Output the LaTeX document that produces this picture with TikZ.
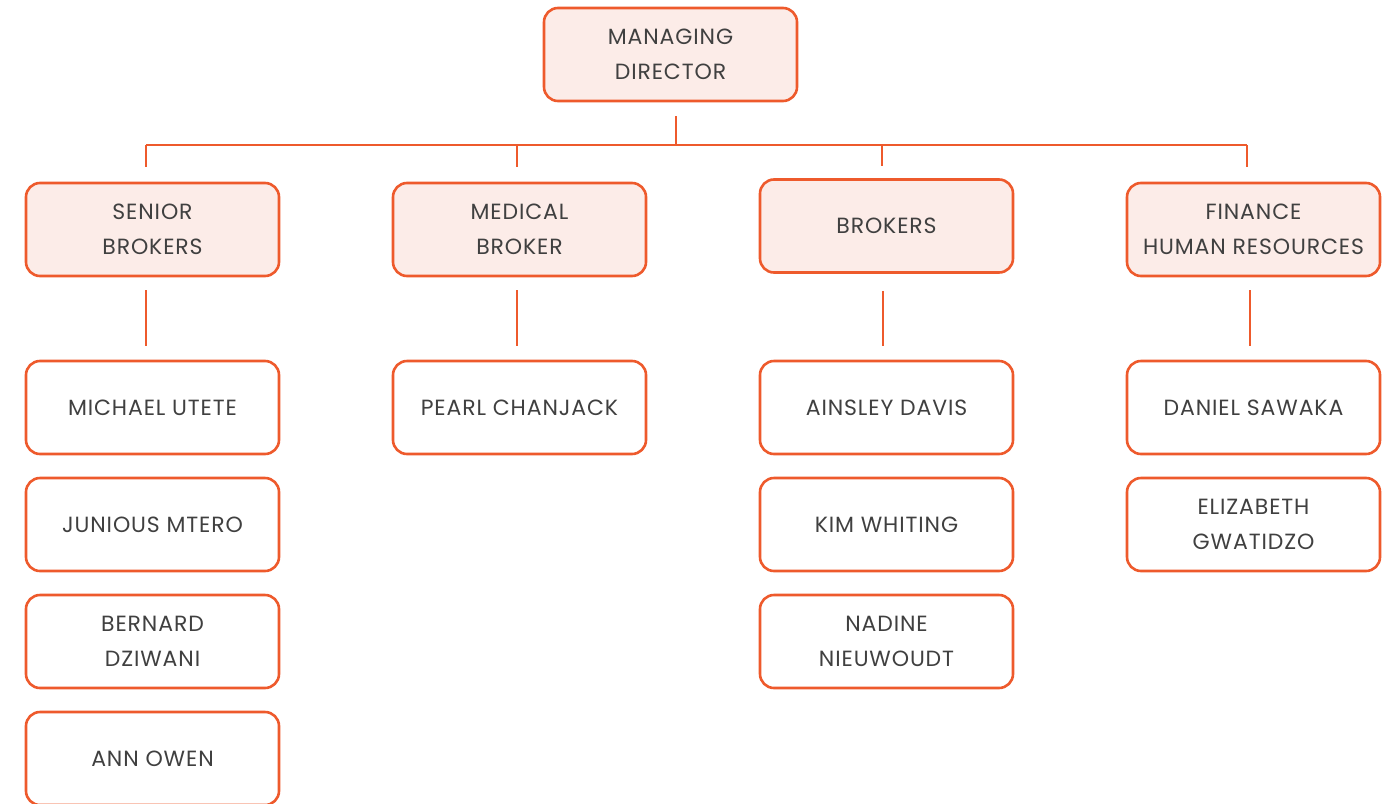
\documentclass[tikz,border=0pt]{standalone}
\usepackage{fontspec}
\setmainfont[LetterSpace=4]{Poppins}
\usetikzlibrary{positioning}

\definecolor{edgeorange}{HTML}{EE5A2C}
\definecolor{headfill}{HTML}{FCECE8}
\definecolor{textgrey}{HTML}{404040}

\begin{document}
\begin{tikzpicture}[x=1pt, y=-1pt]
            \tikzstyle{box}=[draw=edgeorange, line width=2.6pt, rounded corners=14pt, fill=white,
                             minimum width=253pt, minimum height=93pt, align=center,
                             text=textgrey, font=\fontsize{22}{35}\selectfont]
            \tikzstyle{head}=[box, fill=headfill]
            \tikzstyle{link}=[draw=edgeorange, line width=2.6pt]

            \useasboundingbox (0,0) rectangle (1396,803);

            % top
            \node[head] (MD) at (670.5,54.5) {MANAGING\\DIRECTOR};

            % departments
            \node[head] (SB) at (152.5,229.5) {SENIOR\\BROKERS};
            \node[head] (MB) at (519.5,229.5) {MEDICAL\\BROKER};
            \node[head] (BR) at (886.5,226) {BROKERS};
            \node[head] (FH) at (1253.5,229.5) {FINANCE\\HUMAN RESOURCES};

            % staff
            \node[box] (S1) at (152.5,407.5) {MICHAEL UTETE};
            \node[box] (S2) at (152.5,524.5) {JUNIOUS MTERO};
            \node[box] (S3) at (152.5,641.5) {BERNARD\\DZIWANI};
            \node[box] (S4) at (152.5,758.5) {ANN OWEN};
            \node[box] (M1) at (519.5,407.5) {PEARL CHANJACK};
            \node[box] (B1) at (886.5,407.5) {AINSLEY DAVIS};
            \node[box] (B2) at (886.5,524.5) {KIM WHITING};
            \node[box] (B3) at (886.5,641.5) {NADINE\\NIEUWOUDT};
            \node[box] (F1) at (1253.5,407.5) {DANIEL SAWAKA};
            \node[box] (F2) at (1253.5,524.5) {ELIZABETH\\GWATIDZO};

            \coordinate (bus) at (676,145);

            \draw[link, shorten <=14pt] (MD.south -| bus) -- (bus);
            \draw[link] ([xshift=-6.5pt]SB.north |- bus) -- ([xshift=-6.5pt]FH.north |- bus);
            \draw[link, shorten >=15pt] ([xshift=-6.5pt]SB.north |- bus) -- ([xshift=-6.5pt]SB.north);
            \draw[link, shorten >=15pt] ([xshift=-2.5pt]MB.north |- bus) -- ([xshift=-2.5pt]MB.north);
            \draw[link, shorten >=12pt] ([xshift=-4.5pt]BR.north |- bus) -- ([xshift=-4.5pt]BR.north);
            \draw[link, shorten >=15pt] ([xshift=-6.5pt]FH.north |- bus) -- ([xshift=-6.5pt]FH.north);

            \draw[link, shorten <=13pt, shorten >=14pt] ([xshift=-6.5pt]SB.south) -- ([xshift=-6.5pt]S1.north);
            \draw[link, shorten <=13pt, shorten >=14pt] ([xshift=-2.5pt]MB.south) -- ([xshift=-2.5pt]M1.north);
            \draw[link, shorten <=17pt, shorten >=14pt] ([xshift=-3.5pt]BR.south) -- ([xshift=-3.5pt]B1.north);
            \draw[link, shorten <=13pt, shorten >=14pt] ([xshift=-3.5pt]FH.south) -- ([xshift=-3.5pt]F1.north);

\end{tikzpicture}
\end{document}
